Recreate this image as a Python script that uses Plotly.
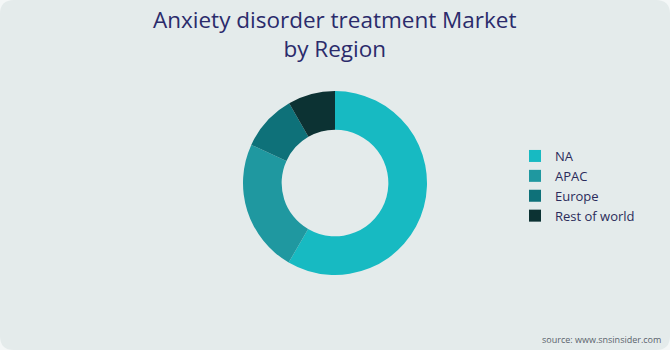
import plotly.graph_objects as go

regions = ["NA", "APAC", "Europe", "Rest of world"]
shares = [58.4, 23.4, 9.9, 8.3]
colors = ["#17BAC2", "#1F98A0", "#0E7179", "#0C3233"]

W, H = 670, 350
fig = go.Figure()
fig.add_trace(go.Pie(
    labels=regions, values=shares, hole=0.58, sort=False, direction="clockwise",
    rotation=0, textinfo="none", hoverinfo="label+percent",
    marker=dict(colors=colors, line=dict(width=0)),
    domain=dict(x=[(335 - 92) / W, (335 + 92) / W], y=[1 - 275 / H, 1 - 91 / H]),
))

r = 14
def px(x, y):
    return f"{x / W:.5f},{1 - y / H:.5f}"
path = (f"M {px(r,0)} L {px(W-r,0)} Q {px(W,0)} {px(W,r)} L {px(W,H-r)} Q {px(W,H)} {px(W-r,H)} "
        f"L {px(r,H)} Q {px(0,H)} {px(0,H-r)} L {px(0,r)} Q {px(0,0)} {px(r,0)} Z")
fig.add_shape(type="path", path=path, xref="paper", yref="paper", layer="below",
              fillcolor="#E4EBEB", line=dict(width=0))

font_fam = "'Open Sans', Lato, sans-serif"
fig.update_layout(
    width=W, height=H, margin=dict(l=0, r=0, t=0, b=0),
    paper_bgcolor="#F4F7F7", plot_bgcolor="rgba(0,0,0,0)",
    showlegend=True,
    legend=dict(x=515 / W, y=1 - 186 / H, xanchor="left", yanchor="middle",
                font=dict(family=font_fam, size=13, color="#2B2B5B"),
                bgcolor="rgba(0,0,0,0)"),
    annotations=[
        dict(text="Anxiety disorder treatment Market<br>by Region", x=0.5, y=1 - 2 / H,
             xref="paper", yref="paper", xanchor="center", yanchor="top", showarrow=False,
             font=dict(family=font_fam, size=22.5, color="#2B2B6B")),
        dict(text="source: www.snsinsider.com", x=663 / W, y=1 - 339 / H,
             xref="paper", yref="paper", xanchor="right", yanchor="middle",
             showarrow=False,
             font=dict(family=font_fam, size=9, color="#5A636B"))],
)
fig.write_html("out.html")
